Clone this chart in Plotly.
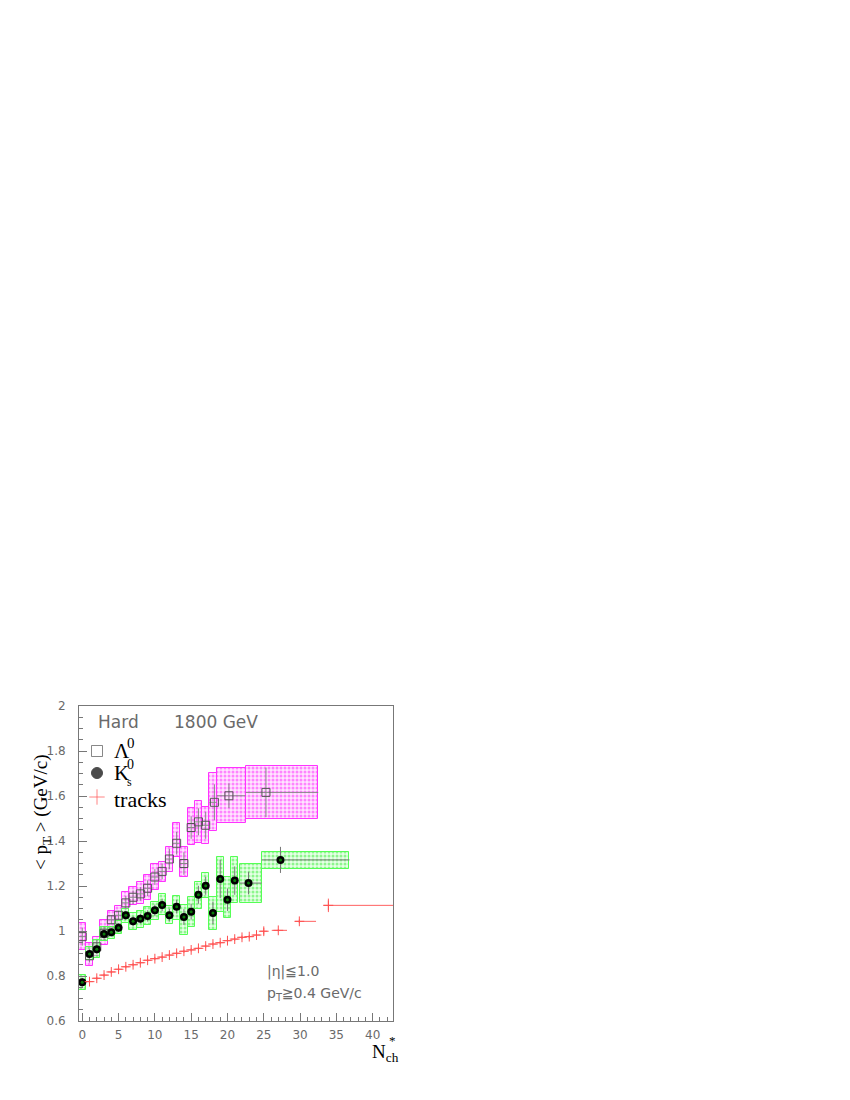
import plotly.graph_objects as go

# ---------------- data ----------------
# Lambda0
lam_x = [0, 1, 2, 3, 4, 5, 6, 7, 8, 9, 10, 11, 12, 13, 14, 15, 16, 17, 18.2, 20.2, 25.3]
lam_y = [0.975, 0.89, 0.93, 0.99, 1.05, 1.07, 1.125, 1.15, 1.165, 1.19, 1.24, 1.265, 1.32, 1.39,
         1.30, 1.46, 1.485, 1.47, 1.572, 1.601, 1.616]
lam_stat = [0.04, 0.03, 0.03, 0.03, 0.02, 0.02, 0.03, 0.03, 0.03, 0.035, 0.035, 0.035, 0.045, 0.05,
            0.05, 0.05, 0.06, 0.06, 0.08, 0.055, 0.11]
lam_sys_lo = [0.915, 0.845, 0.89, 0.94, 1.015, 1.03, 1.10, 1.115, 1.12, 1.14, 1.182, 1.219, 1.264, 1.33,
              1.241, 1.382, 1.39, 1.387, 1.446, 1.479, 1.496]
lam_sys_hi = [1.034, 0.946, 0.975, 1.05, 1.09, 1.11, 1.175, 1.195, 1.22, 1.25, 1.30, 1.308, 1.375, 1.48,
              1.375, 1.547, 1.58, 1.552, 1.702, 1.723, 1.733]
lam_bin_lo = [-0.5, 0.5, 1.5, 2.5, 3.5, 4.5, 5.5, 6.5, 7.5, 8.5, 9.5, 10.5, 11.5, 12.5, 13.5, 14.5, 15.5,
              16.5, 17.5, 18.5, 22.5]
lam_bin_hi = [0.5, 1.5, 2.5, 3.5, 4.5, 5.5, 6.5, 7.5, 8.5, 9.5, 10.5, 11.5, 12.5, 13.5, 14.5, 15.5, 16.5,
              17.5, 18.5, 22.5, 32.5]

# K0s
k0_x = [0, 1, 2, 3, 4, 5, 6, 7, 8, 9, 10, 11, 12, 13, 14, 15, 16, 17, 18, 19, 20, 21, 22.9, 27.3]
k0_y = [0.772, 0.898, 0.919, 0.987, 0.994, 1.015, 1.07, 1.043, 1.055, 1.067, 1.092, 1.116, 1.07, 1.108,
        1.062, 1.086, 1.161, 1.201, 1.08, 1.231, 1.139, 1.224, 1.213, 1.316]
k0_stat = [0.02, 0.018, 0.018, 0.018, 0.018, 0.02, 0.02, 0.022, 0.022, 0.025, 0.025, 0.028, 0.028, 0.03,
           0.035, 0.035, 0.04, 0.04, 0.05, 0.085, 0.05, 0.063, 0.05, 0.058]
k0_sys_lo = [0.738, 0.87, 0.88, 0.955, 0.965, 0.985, 1.035, 1.005, 1.015, 1.025, 1.05, 1.07, 1.03, 1.049,
             0.982, 1.019, 1.10, 1.145, 1.004, 1.086, 1.056, 1.123, 1.126, 1.274]
k0_sys_hi = [0.804, 0.93, 0.96, 1.02, 1.02, 1.045, 1.10, 1.08, 1.09, 1.105, 1.13, 1.165, 1.11, 1.156,
             1.116, 1.152, 1.219, 1.256, 1.152, 1.33, 1.241, 1.328, 1.30, 1.352]
k0_bin_lo = [-0.5, 0.5, 1.5, 2.5, 3.5, 4.5, 5.5, 6.5, 7.5, 8.5, 9.5, 10.5, 11.5, 12.5, 13.5, 14.5, 15.5,
             16.5, 17.5, 18.5, 19.5, 20.5, 21.7, 24.7]
k0_bin_hi = [0.5, 1.5, 2.5, 3.5, 4.5, 5.5, 6.5, 7.5, 8.5, 9.5, 10.5, 11.5, 12.5, 13.5, 14.5, 15.5, 16.5,
             17.5, 18.5, 19.5, 20.5, 21.5, 24.7, 36.8]

# charged tracks
trk_x = [1, 2, 3, 4, 5, 6, 7, 8, 9, 10, 11, 12, 13, 14, 15, 16, 17, 18, 19, 20, 21, 22, 23, 24, 25,
         27.0, 29.9, 33.9]
trk_y = [0.775, 0.790, 0.804, 0.818, 0.830, 0.841, 0.850, 0.859, 0.870, 0.877, 0.884, 0.893, 0.901,
         0.910, 0.916, 0.923, 0.933, 0.942, 0.948, 0.957, 0.964, 0.972, 0.975, 0.982, 0.999,
         1.003, 1.043, 1.114]
trk_stat = [0.007] * 20 + [0.008, 0.008, 0.008, 0.009, 0.015, 0.004, 0.008, 0.03]
trk_bin_lo = [v - 0.5 for v in trk_x[:25]] + [26.1, 29.3, 33.2]
trk_bin_hi = [v + 0.5 for v in trk_x[:25]] + [28.2, 32.2, 42.8]

x_ticks = [0, 5, 10, 15, 20, 25, 30, 35, 40]
y_ticks = [0.6, 0.8, 1.0, 1.2, 1.4, 1.6, 1.8, 2.0]
y_ticktext = ["0.6", "0.8", "1", "1.2", "1.4", "1.6", "1.8", "2"]

# ---------------- figure ----------------
fig = go.Figure()

GRAY = "#777777"
TICKFONT = dict(family="DejaVu Sans", size=12, color="#6a6a6a")

# plot frame in page pixels (the page body adds an 8px offset)
PX_L, PX_R, PX_T, PX_B = 79, 393, 706, 1021
W_PLOT, H_PLOT = PX_R - PX_L, PX_B - PX_T


def px(xp):
    return (xp - PX_L) / W_PLOT


def py(yp):
    return (PX_B - yp) / H_PLOT


def sys_boxes(lo_x, hi_x, lo_y, hi_y, line_col, bg_col, fg_col):
    return go.Bar(
        x=[(a + b) / 2 for a, b in zip(lo_x, hi_x)],
        width=[b - a for a, b in zip(lo_x, hi_x)],
        base=lo_y,
        y=[b - a for a, b in zip(lo_y, hi_y)],
        marker=dict(
            color=bg_col,
            line=dict(color=line_col, width=1),
            pattern=dict(shape=".", fgcolor=fg_col, size=4, solidity=0.45, fillmode="overlay"),
        ),
        showlegend=False,
        hoverinfo="skip",
    )


fig.add_trace(sys_boxes(lam_bin_lo, lam_bin_hi, lam_sys_lo, lam_sys_hi,
                        "#ff33ff", "rgba(255,200,255,0.45)", "#ff22ff"))
fig.add_trace(sys_boxes(k0_bin_lo, k0_bin_hi, k0_sys_lo, k0_sys_hi,
                        "#55ff55", "rgba(200,255,200,0.45)", "#33ee33"))

# Lambda points
fig.add_trace(go.Scatter(
    x=lam_x, y=lam_y, mode="markers", showlegend=False,
    marker=dict(symbol="square-open", size=8, color="#555555", line=dict(width=1, color="#555555")),
    error_y=dict(type="data", array=lam_stat, color="#888888", thickness=1, width=0),
    error_x=dict(type="data", array=[b - x for x, b in zip(lam_x, lam_bin_hi)],
                 arrayminus=[x - a for x, a in zip(lam_x, lam_bin_lo)],
                 color="#888888", thickness=1, width=0),
))

# K0s points
fig.add_trace(go.Scatter(
    x=k0_x, y=k0_y, mode="markers", showlegend=False,
    marker=dict(symbol="circle", size=8, color="black"),
    error_y=dict(type="data", array=k0_stat, color="#777777", thickness=1, width=0),
    error_x=dict(type="data", array=[b - x for x, b in zip(k0_x, k0_bin_hi)],
                 arrayminus=[x - a for x, a in zip(k0_x, k0_bin_lo)],
                 color="#777777", thickness=1, width=0),
))
fig.add_trace(go.Scatter(
    x=k0_x, y=k0_y, mode="markers", showlegend=False, hoverinfo="skip",
    marker=dict(symbol="circle", size=3, color="#0a7a0a"),
))

# tracks
fig.add_trace(go.Scatter(
    x=trk_x, y=trk_y, mode="markers", showlegend=False,
    marker=dict(symbol="cross-thin-open", size=7, color="#ff5050", line=dict(width=1, color="#ff5050")),
    error_y=dict(type="data", array=trk_stat, color="#ff6060", thickness=1, width=0),
    error_x=dict(type="data", array=[b - x for x, b in zip(trk_x, trk_bin_hi)],
                 arrayminus=[x - a for x, a in zip(trk_x, trk_bin_lo)],
                 color="#ff6060", thickness=1, width=0),
))

# legend key glyphs (on an overlay axis in plot-fraction units)
leg_y = [py(751), py(773), py(797)]
fig.add_trace(go.Scatter(
    x=[px(97)] * 3, y=leg_y, mode="markers", xaxis="x2", yaxis="y2",
    showlegend=False, hoverinfo="skip",
    marker=dict(symbol=["square-open", "circle", "cross-thin-open"], size=[11, 11, 11],
                color=["#555555", "black", "#ff5050"],
                line=dict(width=1, color=["#555555", "black", "#ff5050"])),
))

fig.update_layout(
    width=850, height=1100,
    margin=dict(l=PX_L - 8, r=850 - (PX_R - 8), t=PX_T - 8, b=1100 - (PX_B - 8)),
    paper_bgcolor="white", plot_bgcolor="white",
    barmode="overlay", bargap=0,
    showlegend=False,
    xaxis=dict(range=[-0.45, 42.8], tickvals=x_ticks, ticks="inside", ticklen=8, tickcolor=GRAY,
               minor=dict(dtick=1, ticks="inside", ticklen=4, tickcolor=GRAY),
               showline=True, linecolor=GRAY, linewidth=1, mirror=True, automargin=False,
               showgrid=False, zeroline=False, tickfont=TICKFONT, ticklabelstandoff=3),
    yaxis=dict(range=[0.6, 2.0], tickvals=y_ticks, ticktext=y_ticktext,
               ticks="inside", ticklen=8, tickcolor=GRAY,
               minor=dict(dtick=0.05, ticks="inside", ticklen=4, tickcolor=GRAY),
               showline=True, linecolor=GRAY, linewidth=1, mirror=True, automargin=False,
               showgrid=False, zeroline=False, tickfont=TICKFONT, ticklabelstandoff=10),
    xaxis2=dict(overlaying="x", range=[0, 1], visible=False, fixedrange=True),
    yaxis2=dict(overlaying="y", range=[0, 1], visible=False, fixedrange=True),
)

SERIF = "Liberation Serif"
# legend texts
fig.add_annotation(xref="paper", yref="paper", x=px(112), y=py(751), text="Λ", showarrow=False,
                   xanchor="left", yanchor="middle", font=dict(family=SERIF, size=21, color="black"))
fig.add_annotation(xref="paper", yref="paper", x=px(125), y=py(743), text="0", showarrow=False,
                   xanchor="left", yanchor="middle", font=dict(family=SERIF, size=15, color="black"))
fig.add_annotation(xref="paper", yref="paper", x=px(112), y=py(773), text="K", showarrow=False,
                   xanchor="left", yanchor="middle", font=dict(family=SERIF, size=21, color="black"))
fig.add_annotation(xref="paper", yref="paper", x=px(125), y=py(764), text="0", showarrow=False,
                   xanchor="left", yanchor="middle", font=dict(family=SERIF, size=14, color="black"))
fig.add_annotation(xref="paper", yref="paper", x=px(125), y=py(782), text="s", showarrow=False,
                   xanchor="left", yanchor="middle", font=dict(family=SERIF, size=12, color="black"))
fig.add_annotation(xref="paper", yref="paper", x=px(112), y=py(799), text="tracks", showarrow=False,
                   xanchor="left", yanchor="middle", font=dict(family=SERIF, size=22, color="black"))

LBL = dict(family="DejaVu Sans", size=17, color="#6a6a6a")
SMALL = dict(family="DejaVu Sans", size=14, color="#6a6a6a")
fig.add_annotation(xref="paper", yref="paper", x=px(96), y=py(722),
                   text="Hard", showarrow=False, xanchor="left", yanchor="middle", font=LBL)
fig.add_annotation(xref="paper", yref="paper", x=px(172), y=py(722),
                   text="1800 GeV", showarrow=False, xanchor="left", yanchor="middle", font=LBL)
fig.add_annotation(xref="paper", yref="paper", x=px(265), y=py(971),
                   text="|η|≦1.0", showarrow=False, xanchor="left", yanchor="middle", font=SMALL)
fig.add_annotation(xref="paper", yref="paper", x=px(265), y=py(994),
                   text="p<sub>T</sub>≧0.4 GeV/c", showarrow=False, xanchor="left", yanchor="middle",
                   font=SMALL)
# axis titles
fig.add_annotation(xref="paper", yref="paper", x=px(42), y=py(812),
                   text="< p<sub>T</sub> > (GeV/c)", showarrow=False, textangle=-90,
                   xanchor="center", yanchor="middle",
                   font=dict(family=SERIF, size=19, color="black"))
fig.add_annotation(xref="paper", yref="paper", x=px(370), y=py(1053),
                   text="N<sub>ch</sub>", showarrow=False, xanchor="left", yanchor="middle",
                   font=dict(family=SERIF, size=19, color="black"))
fig.add_annotation(xref="paper", yref="paper", x=px(392), y=py(1040),
                   text="*", showarrow=False, xanchor="center", yanchor="middle",
                   font=dict(family=SERIF, size=13, color="black"))

fig.write_html("out.html")
